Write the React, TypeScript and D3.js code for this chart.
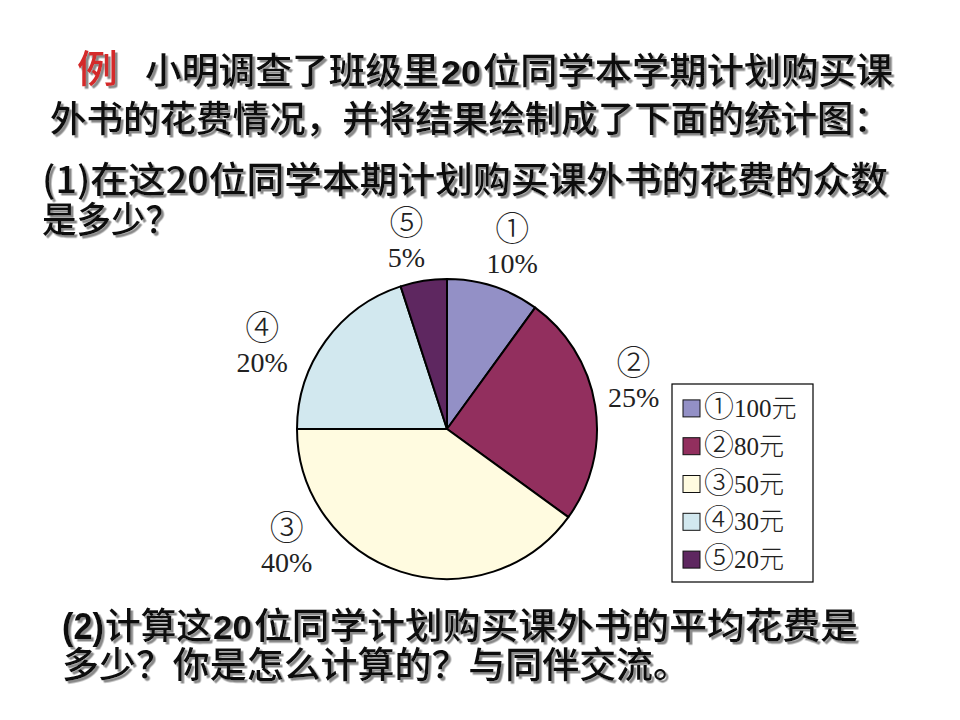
import React from "react";
import * as d3 from "d3";

const markers = ["①", "②", "③", "④", "⑤"];
const percents = [10, 25, 40, 20, 5];
const amounts = [100, 80, 50, 30, 20];
const colors = ["#9390c6", "#922f5e", "#fffbe0", "#d2e8ef", "#5e2760"];

const titleLine1a = "小明调查了班级里";
const titleNum = "20";
const titleLine1b = "位同学本学期计划购买课";
const titleLine2 = "外书的花费情况，并将结果绘制成了下面的统计图：";
const q1Line1 = "(1)在这20位同学本期计划购买课外书的花费的众数";
const q1Line2 = "是多少？";
const q2Prefix = "(2)";
const q2Line1a = "计算这";
const q2Line1b = "位同学计划购买课外书的平均花费是";
const q2Line2 = "多少？你是怎么计算的？与同伴交流。";

const W = 960;
const H = 720;
const cx = 447;
const cy = 429;
const R = 150;
const labelR = 195;
const labelNudge: [number, number][] = [
  [5, 2],
  [-6, -18],
  [-100, -69],
  [-27, 31],
  [-10, 4],
];

const CJK = "'Noto Sans CJK SC', 'Noto Sans', sans-serif";
const SERIF = "'Liberation Serif', 'Noto Sans CJK SC', serif";
const BOLD_LATIN = "'Liberation Sans', Arial, sans-serif";

function Shadowed(props: {
  x: number;
  y: number;
  len: number;
  size?: number;
  fill?: string;
  family?: string;
  weight?: number;
  children: React.ReactNode;
}) {
  const {
    x,
    y,
    len,
    size = 36,
    fill = "#111",
    family = CJK,
    weight = 500,
    children,
  } = props;
  return (
    <text
      x={x}
      y={y}
      fill={fill}
      fontFamily={family}
      fontSize={size}
      fontWeight={weight}
      textLength={len}
      lengthAdjust="spacingAndGlyphs"
      filter="url(#txtShadow)"
    >
      {children}
    </text>
  );
}

export default function App() {
  const pie = d3
    .pie<number>()
    .sort(null)
    .value((d) => d)
    .startAngle(0)
    .endAngle(2 * Math.PI);
  const arcs = pie(percents);
  const arc = d3.arc<d3.PieArcDatum<number>>().innerRadius(0).outerRadius(R);
  const labelArc = d3
    .arc<d3.PieArcDatum<number>>()
    .innerRadius(labelR)
    .outerRadius(labelR);

  const legendX = 672;
  const legendY = 384;
  const legendW = 141;
  const legendH = 198;
  const rowY = d3
    .scaleBand<number>()
    .domain(d3.range(markers.length))
    .range([legendY + 5, legendY + legendH - 4]);

  return (
    <svg
      width={W}
      height={H}
      viewBox={`0 0 ${W} ${H}`}
      style={{ position: "absolute", left: 0, top: 0, background: "#fff" }}
    >
      <defs>
        <filter id="txtShadow" x="-5%" y="-20%" width="110%" height="150%">
          <feDropShadow
            dx={2.5}
            dy={2.5}
            stdDeviation={0.6}
            floodColor="#8a8a8a"
            floodOpacity={1}
          />
        </filter>
      </defs>
      <rect x={0} y={0} width={W} height={H} fill="#fff" />

      {/* Title */}
      <Shadowed x={77} y={82} len={41} size={38} fill="#d42a2a">
        例
      </Shadowed>
      <Shadowed x={145} y={84} len={294}>
        {titleLine1a}
      </Shadowed>
      <Shadowed x={441} y={84} len={40} size={34} family={BOLD_LATIN} weight={700}>
        {titleNum}
      </Shadowed>
      <Shadowed x={483} y={84} len={410}>
        {titleLine1b}
      </Shadowed>
      <Shadowed x={50} y={132} len={840}>
        {titleLine2}
      </Shadowed>
      <Shadowed x={42} y={193} len={846}>
        {q1Line1}
      </Shadowed>
      <Shadowed x={42} y={233} len={138}>
        {q1Line2}
      </Shadowed>

      {/* Pie */}
      <g transform={`translate(${cx},${cy})`}>
        {arcs.map((a, i) => (
          <path
            key={i}
            d={arc(a) || ""}
            fill={colors[i]}
            stroke="#000"
            strokeWidth={2}
            strokeLinejoin="round"
          />
        ))}
        {arcs.map((a, i) => {
          const [lx, ly] = labelArc.centroid(a);
          const x = lx + labelNudge[i][0];
          const y = ly + labelNudge[i][1];
          return (
            <g key={"l" + i} transform={`translate(${x},${y})`}>
              <text
                x={0}
                y={-5}
                textAnchor="middle"
                fontFamily={CJK}
                fontSize={34}
                fontWeight={300}
                fill="#222"
              >
                {markers[i]}
              </text>
              <text
                x={0}
                y={27}
                textAnchor="middle"
                fontFamily={SERIF}
                fontSize={28}
                fill="#222"
              >
                {percents[i]}%
              </text>
            </g>
          );
        })}
      </g>

      {/* Legend */}
      <rect
        x={legendX}
        y={legendY}
        width={legendW}
        height={legendH}
        fill="#fff"
        stroke="#000"
        strokeWidth={1.2}
      />
      {markers.map((m, i) => {
        const y0 = (rowY(i) as number) + rowY.bandwidth() / 2;
        return (
          <g key={"lg" + i}>
            <rect
              x={legendX + 11}
              y={y0 - 8}
              width={17}
              height={17}
              fill={colors[i]}
              stroke="#111"
              strokeWidth={1}
            />
            <text
              x={legendX + 32}
              y={y0 + 9}
              fontFamily={SERIF}
              fontSize={25}
              fill="#222"
            >
              <tspan fontFamily={CJK} fontWeight={300} fontSize={30}>
                {m}
              </tspan>
              {amounts[i]}
              <tspan fontFamily={CJK} fontWeight={300}>
                元
              </tspan>
            </text>
          </g>
        );
      })}

      {/* Question 2 */}
      <Shadowed x={62} y={639} len={42} size={37} family={BOLD_LATIN} weight={700}>
        {q2Prefix}
      </Shadowed>
      <Shadowed x={105} y={639} len={107}>
        {q2Line1a}
      </Shadowed>
      <Shadowed x={213} y={639} len={39} size={34} family={BOLD_LATIN} weight={700}>
        {titleNum}
      </Shadowed>
      <Shadowed x={254} y={639} len={604}>
        {q2Line1b}
      </Shadowed>
      <Shadowed x={62} y={678} len={628}>
        {q2Line2}
      </Shadowed>
    </svg>
  );
}
